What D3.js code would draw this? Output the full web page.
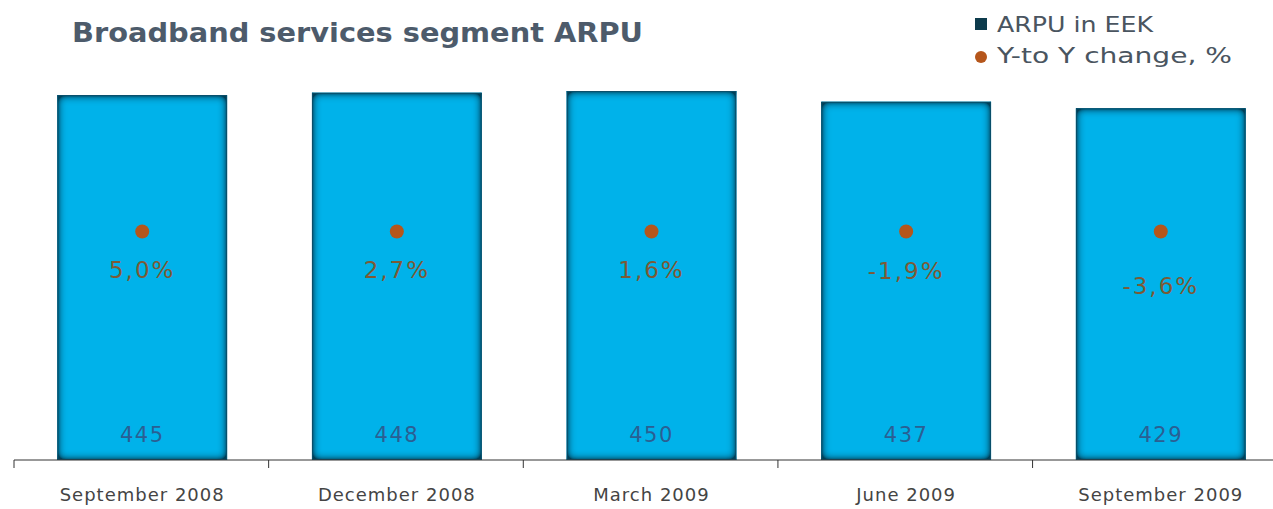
<!DOCTYPE html>
<html>
<head>
<meta charset="utf-8">
<script src="https://cdn.jsdelivr.net/npm/d3@7"></script>
<style>
  body { margin: 0; background: #fff; }
  text { font-family: "DejaVu Sans", Verdana, sans-serif; }
</style>
</head>
<body>
<div id="plot"></div>
<script>
// data
const categories = ["September 2008", "December 2008", "March 2009", "June 2009", "September 2009"];
const arpu = [445, 448, 450, 437, 429];
const yoyChange = [5.0, 2.7, 1.6, -1.9, -3.6];

const w = 1273, h = 509;
const baseY = 460;

const svg = d3.select("div#plot")
  .append("svg")
  .attr("width", w)
  .attr("height", h);

// inner shadow for the bars
const defs = svg.append("defs");
const f = defs.append("filter").attr("id", "inset")
  .attr("x", "-5%").attr("y", "-5%").attr("width", "110%").attr("height", "110%");
f.append("feGaussianBlur").attr("in", "SourceAlpha").attr("stdDeviation", 5).attr("result", "blur");
f.append("feComposite").attr("in", "SourceAlpha").attr("in2", "blur")
  .attr("operator", "arithmetic").attr("k2", 2).attr("k3", -2).attr("result", "edge");
f.append("feFlood").attr("flood-color", "#053f58").attr("result", "col");
f.append("feComposite").attr("in", "col").attr("in2", "edge").attr("operator", "in").attr("result", "shadow");
const merge = f.append("feMerge");
merge.append("feMergeNode").attr("in", "SourceGraphic");
merge.append("feMergeNode").attr("in", "shadow");

const xScale = d3.scaleBand()
  .domain(categories)
  .range([14, 1289])
  .paddingInner(0.333)
  .paddingOuter(0.17);

const yScale = d3.scaleLinear()
  .domain([0, 500])
  .range([baseY, baseY - 0.82 * 500]);

// y-to-y change series drawn on its own (flat) scale
const pScale = d3.scaleLinear()
  .domain([-100, 100])
  .range([232, 231]);

// bars
svg.append("g")
  .attr("id", "bars")
  .selectAll("rect")
  .data(arpu)
  .enter()
  .append("rect")
  .attr("x", (d, i) => xScale(categories[i]))
  .attr("y", d => yScale(d))
  .attr("width", xScale.bandwidth())
  .attr("height", d => baseY - yScale(d))
  .attr("fill", "#00b2ea")
  .attr("filter", "url(#inset)");

svg.select("#bars").selectAll("rect.edge")
  .data(arpu)
  .enter()
  .append("rect")
  .attr("class", "edge")
  .attr("x", (d, i) => xScale(categories[i]) + 0.5)
  .attr("y", d => yScale(d) + 0.5)
  .attr("width", xScale.bandwidth() - 1)
  .attr("height", d => baseY - yScale(d) - 1)
  .attr("fill", "none")
  .attr("stroke", "#0a4f6a")
  .attr("stroke-width", 1);

// value labels
svg.append("g")
  .selectAll("text")
  .data(arpu)
  .enter()
  .append("text")
  .attr("x", (d, i) => xScale(categories[i]) + xScale.bandwidth() / 2)
  .attr("y", 442)
  .attr("text-anchor", "middle")
  .attr("font-size", 21)
  .attr("letter-spacing", 1.5)
  .attr("fill", "#2a5f93")
  .text(d => d);

// x axis
const xAxis = d3.axisBottom(xScale).tickSize(0).tickPadding(28);
const ax = svg.append("g")
  .attr("transform", `translate(0, ${baseY})`)
  .call(xAxis);
ax.select(".domain").attr("stroke", "#333").attr("d", "M14,0H1289");
ax.selectAll(".tick text")
  .attr("font-family", "DejaVu Sans, sans-serif")
  .attr("font-size", 18)
  .attr("letter-spacing", 1)
  .attr("fill", "#444")
  .attr("dy", "0.71em");
ax.selectAll("line.bound")
  .data(d3.range(categories.length + 1))
  .enter()
  .append("line")
  .attr("class", "bound")
  .attr("x1", i => 14 + i * xScale.step())
  .attr("x2", i => 14 + i * xScale.step())
  .attr("y1", 0)
  .attr("y2", 8)
  .attr("stroke", "#333");

// y-to-y dots and labels
svg.append("g")
  .selectAll("circle")
  .data(yoyChange)
  .enter()
  .append("circle")
  .attr("cx", (d, i) => xScale(categories[i]) + xScale.bandwidth() / 2)
  .attr("cy", d => pScale(d))
  .attr("r", 7)
  .attr("fill", "#b5561b");

svg.append("g")
  .selectAll("text")
  .data(yoyChange)
  .enter()
  .append("text")
  .attr("x", (d, i) => xScale(categories[i]) + xScale.bandwidth() / 2)
  .attr("y", d => pScale(d) + (d < -3 ? 62 : 47))
  .attr("text-anchor", "middle")
  .attr("font-size", 23)
  .attr("letter-spacing", 2)
  .attr("fill", "#7d5a35")
  .text(d => d3.format(".1f")(d).replace(".", ",").replace("−", "-") + "%");

// title
svg.append("text")
  .attr("x", 72)
  .attr("y", 42)
  .attr("font-size", 27)
  .attr("font-weight", "bold")
  .attr("fill", "#4d5b6b")
  .attr("textLength", 571)
  .attr("lengthAdjust", "spacingAndGlyphs")
  .text("Broadband services segment ARPU");

// legend
const lg = svg.append("g").attr("transform", "translate(975, 0)");
lg.append("rect").attr("x", 0).attr("y", 18).attr("width", 12).attr("height", 12).attr("fill", "#0d3b4c");
lg.append("text").attr("x", 22).attr("y", 32).attr("font-size", 22).attr("fill", "#4a5560")
  .attr("textLength", 156).attr("lengthAdjust", "spacingAndGlyphs").text("ARPU in EEK");
lg.append("circle").attr("cx", 6).attr("cy", 57).attr("r", 6).attr("fill", "#b5561b");
lg.append("text").attr("x", 22).attr("y", 63).attr("font-size", 22).attr("fill", "#4a5560")
  .attr("textLength", 235).attr("lengthAdjust", "spacingAndGlyphs").text("Y-to Y change, %");
</script>
</body>
</html>
